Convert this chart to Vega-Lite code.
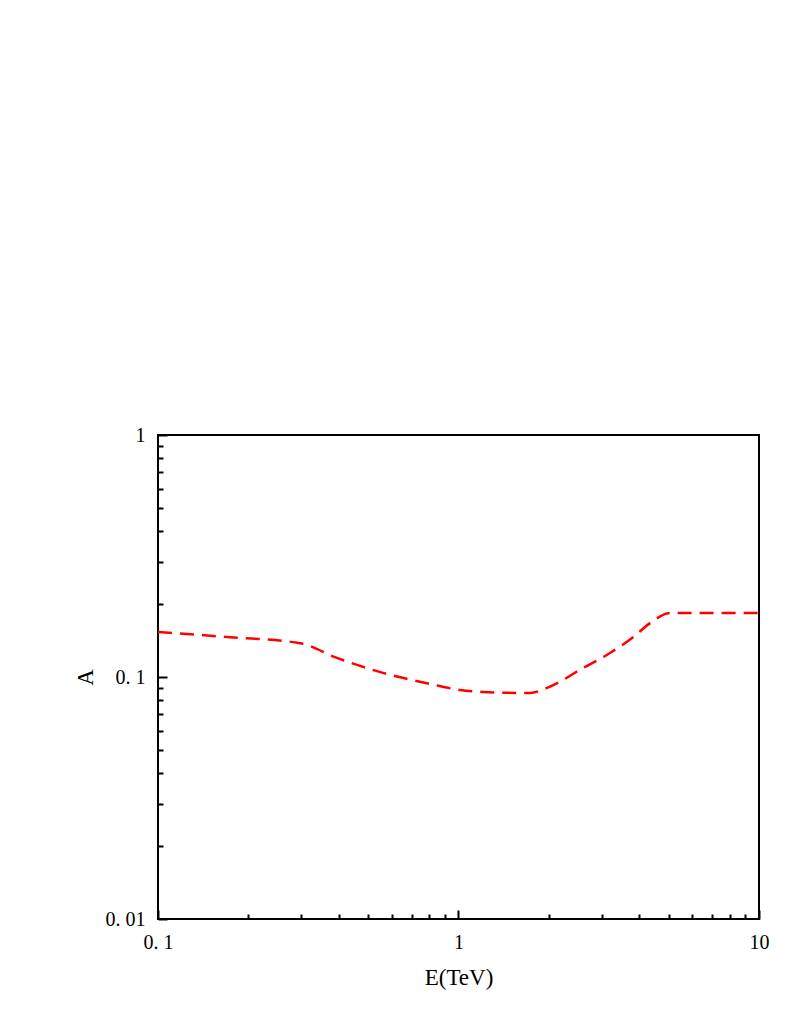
{
  "$schema": "https://vega.github.io/schema/vega-lite/v6.json",
  "width": 601,
  "height": 484,
  "autosize": {"type": "none"},
  "padding": {"left": 158, "top": 435, "right": 38, "bottom": 113},
  "background": "white",
  "config": {
    "view": {"stroke": "black", "strokeWidth": 2},
    "axis": {
      "grid": false,
      "domain": false,
      "labelFont": "Liberation Serif",
      "titleFont": "Liberation Serif",
      "labelFontSize": 20,
      "titleFontSize": 23,
      "labelColor": "black",
      "titleColor": "black",
      "titleFontWeight": "normal",
      "tickColor": "black",
      "tickWidth": 2
    }
  },
  "data": {
    "values": [
      {"E": 0.1, "A": 0.1535},
      {"E": 0.1736, "A": 0.146},
      {"E": 0.297, "A": 0.138},
      {"E": 0.394, "A": 0.1199},
      {"E": 0.561, "A": 0.104},
      {"E": 0.804, "A": 0.0936},
      {"E": 1.01, "A": 0.0884},
      {"E": 1.206, "A": 0.0867},
      {"E": 1.73, "A": 0.0859},
      {"E": 1.97, "A": 0.0901},
      {"E": 2.6, "A": 0.109},
      {"E": 3.19, "A": 0.1256},
      {"E": 3.81, "A": 0.146},
      {"E": 4.34, "A": 0.167},
      {"E": 5.06, "A": 0.1838},
      {"E": 6.03, "A": 0.1838},
      {"E": 10, "A": 0.184}
    ]
  },
  "mark": {"type": "line", "color": "#ff0000", "strokeWidth": 2.5, "strokeDash": [14, 8], "interpolate": "monotone", "clip": true},
  "encoding": {
    "x": {
      "field": "E", "type": "quantitative",
      "scale": {"type": "log", "domain": [0.1, 10], "nice": false},
      "axis": {
        "title": "E(TeV)",
        "titlePadding": 10,
        "values": [0.1,0.2,0.3,0.4,0.5,0.6,0.7,0.8,0.9,1,2,3,4,5,6,7,8,9,10],
        "tickSize": {"expr": "(datum.value==0.1||datum.value==1||datum.value==10) ? -9 : -5"},
        "labelPadding": 22,
        "labelExpr": "datum.value==0.1?'0. 1':datum.value==1?'1':datum.value==10?'10':''",
        "labelFlush": false,
        "labelOverlap": false
      }
    },
    "y": {
      "field": "A", "type": "quantitative",
      "scale": {"type": "log", "domain": [0.01, 1], "nice": false},
      "axis": {
        "title": "A",
        "titlePadding": 8,
        "values": [0.01,0.02,0.03,0.04,0.05,0.06,0.07,0.08,0.09,0.1,0.2,0.3,0.4,0.5,0.6,0.7,0.8,0.9,1],
        "tickSize": {"expr": "(datum.value==0.01||datum.value==0.1||datum.value==1) ? -9 : -5"},
        "labelPadding": 22,
        "labelExpr": "datum.value==0.01?'0. 01':datum.value==0.1?'0. 1':datum.value==1?'1':''",
        "labelFlush": false,
        "labelOverlap": false
      }
    }
  }
}
